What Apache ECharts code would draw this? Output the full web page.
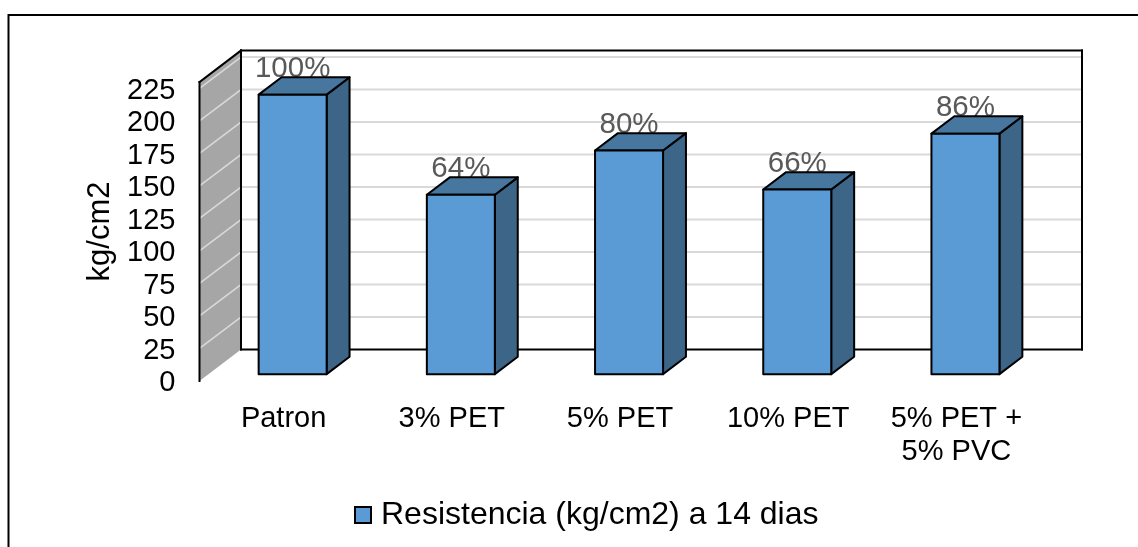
<!DOCTYPE html>
<html>
<head>
<meta charset="utf-8">
<style>html,body{margin:0;padding:0;background:#fff}#c{width:1138px;height:547px}</style>
<script src="https://cdn.jsdelivr.net/npm/echarts@6/dist/echarts.min.js"></script>
</head>
<body>
<div id="c"></div>
<script>
const categories = ['Patron', '3% PET', '5% PET', '10% PET', '5% PET +\n5% PVC'];
const resistance = [215, 138, 172, 142, 185];
const percentLabels = ['100%', '64%', '80%', '66%', '86%'];
const yTicks = [0, 25, 50, 75, 100, 125, 150, 175, 200, 225];
const seriesName = 'Resistencia (kg/cm2) a 14 dias';
const yMax = 230;

const FONT = '"Liberation Sans", Arial, sans-serif';
const DEPTH_X = 41.5, DEPTH_Y = 31.5;
const BAR_W = 68, BAR_NEAR = 0.218, BAR_FAR = 0.77;
const C_FRONT = '#5b9bd5', C_TOP = '#47769f', C_SIDE = '#3c6588', C_WALL = '#a6a6a6', C_GRID = '#d9d9d9', C_LINE = '#000';

function poly(points, fill, stroke, lw) {
  return { type: 'polygon', shape: { points }, style: { fill, stroke: stroke || null, lineWidth: lw || 0, lineJoin: 'round' } };
}
function seg(x1, y1, x2, y2, stroke, lw) {
  return { type: 'line', shape: { x1, y1, x2, y2 }, style: { stroke, lineWidth: lw, lineCap: 'square' } };
}

function renderWalls(params, api) {
  const cs = params.coordSys;
  const l = cs.x, r = cs.x + cs.width, t = cs.y, b = cs.y + cs.height;
  return { type: 'group', children: [
    poly([[l, t], [l + DEPTH_X, t - DEPTH_Y], [l + DEPTH_X, b - DEPTH_Y], [l, b]], C_WALL),
    poly([[l + DEPTH_X, t - DEPTH_Y], [r + DEPTH_X, t - DEPTH_Y], [r + DEPTH_X, b - DEPTH_Y], [l + DEPTH_X, b - DEPTH_Y]], '#fff')
  ] };
}
function renderGrid(params, api) {
  const cs = params.coordSys;
  const l = cs.x, r = cs.x + cs.width;
  const y = api.coord([0, api.value(0)])[1];
  if (api.value(0) === 0) return { type: 'group', children: [] };
  return { type: 'group', children: [
    seg(l, y, l + DEPTH_X, y - DEPTH_Y, C_GRID, 1.6),
    seg(l + DEPTH_X, y - DEPTH_Y, r + DEPTH_X, y - DEPTH_Y, C_GRID, 2)
  ] };
}
function renderFrame(params, api) {
  const cs = params.coordSys;
  const l = cs.x, r = cs.x + cs.width, t = cs.y, b = cs.y + cs.height;
  const bl = l + DEPTH_X, tt = t - DEPTH_Y, bb = b - DEPTH_Y, rr = r + DEPTH_X;
  return { type: 'group', children: [
    seg(l, t, l, b, C_LINE, 2),
    seg(l, t, bl, tt, C_LINE, 2),
    seg(bl, tt, rr, tt, C_LINE, 2),
    seg(bl, tt, bl, bb, C_LINE, 2),
    seg(rr, tt, rr, bb, C_LINE, 2),
    seg(bl, bb, rr, bb, C_LINE, 2)
  ] };
}
function renderBar(params, api) {
  const i = api.value(0), v = api.value(1);
  const base = api.coord([i, 0]), top = api.coord([i, v]);
  const dx1 = DEPTH_X * BAR_NEAR, dy1 = DEPTH_Y * BAR_NEAR;
  const dx2 = DEPTH_X * BAR_FAR, dy2 = DEPTH_Y * BAR_FAR;
  const cx = base[0] + dx1;
  const x0 = cx - BAR_W / 2, x1 = cx + BAR_W / 2;
  const yb = base[1] - dy1, yt = top[1] - dy1;
  const ox = dx2 - dx1, oy = dy2 - dy1;
  return { type: 'group', children: [
    { type: 'text', style: { text: percentLabels[i], x: cx, y: yt - 11, align: 'center', verticalAlign: 'bottom', font: '29.5px ' + FONT, fill: '#595959' } },
    poly([[x1, yt], [x1 + ox, yt - oy], [x1 + ox, yb - oy], [x1, yb]], C_SIDE, C_LINE, 2),
    poly([[x0, yt], [x0 + ox, yt - oy], [x1 + ox, yt - oy], [x1, yt]], C_TOP, C_LINE, 2),
    poly([[x0, yt], [x1, yt], [x1, yb], [x0, yb]], C_FRONT, C_LINE, 2)
  ] };
}

const chart = echarts.init(document.getElementById('c'), null, { renderer: 'canvas' });
chart.setOption({
  animation: false,
  backgroundColor: '#fff',
  textStyle: { fontFamily: FONT },
  grid: { left: 199.5, top: 82, width: 841, height: 299, containLabel: false },
  graphic: [{
    type: 'polyline', silent: true,
    shape: { points: [[8.5, 560], [8.5, 15], [1150, 15]] },
    style: { stroke: '#000', lineWidth: 2, fill: null }
  }],
  legend: {
    data: [seriesName], left: 354, top: 499, padding: 0, itemGap: 0, icon: 'rect',
    itemWidth: 16, itemHeight: 16,
    itemStyle: { color: C_FRONT, borderColor: '#000', borderWidth: 2 },
    textStyle: { fontFamily: FONT, fontSize: 32, color: '#000', padding: [0, 0, 0, 5] }
  },
  xAxis: {
    type: 'category', data: categories,
    axisLine: { show: false }, axisTick: { show: false }, splitLine: { show: false },
    axisLabel: { fontFamily: FONT, fontSize: 29, color: '#000', margin: 21, lineHeight: 33, interval: 0 }
  },
  yAxis: {
    type: 'value', min: 0, max: yMax, interval: 25,
    name: 'kg/cm2', nameLocation: 'middle', nameGap: 84, nameRotate: 90,
    nameTextStyle: { fontFamily: FONT, fontSize: 31, color: '#000' },
    axisLine: { show: false }, axisTick: { show: false }, splitLine: { show: false },
    axisLabel: {
      margin: 24, showMaxLabel: false, formatter: '{t|{value}}',
      rich: { t: { fontFamily: FONT, fontSize: 29, color: '#000', padding: [4, 0, 0, 0] } }
    }
  },
  series: [
    { type: 'custom', name: 'walls', z: 1, silent: true, clip: false, data: [[0, yMax]], renderItem: renderWalls },
    { type: 'custom', name: 'gridlines', z: 2, silent: true, clip: false, data: yTicks.map(t => [t]), encode: { y: 0 }, renderItem: renderGrid },
    { type: 'custom', name: 'frame', z: 3, silent: true, clip: false, data: [[0, yMax]], renderItem: renderFrame },
    { type: 'custom', name: seriesName, z: 4, clip: false,
      itemStyle: { color: C_FRONT },
      data: resistance.map((v, i) => [i, v]), encode: { x: 0, y: 1 }, renderItem: renderBar }
  ]
});
</script>
</body>
</html>
